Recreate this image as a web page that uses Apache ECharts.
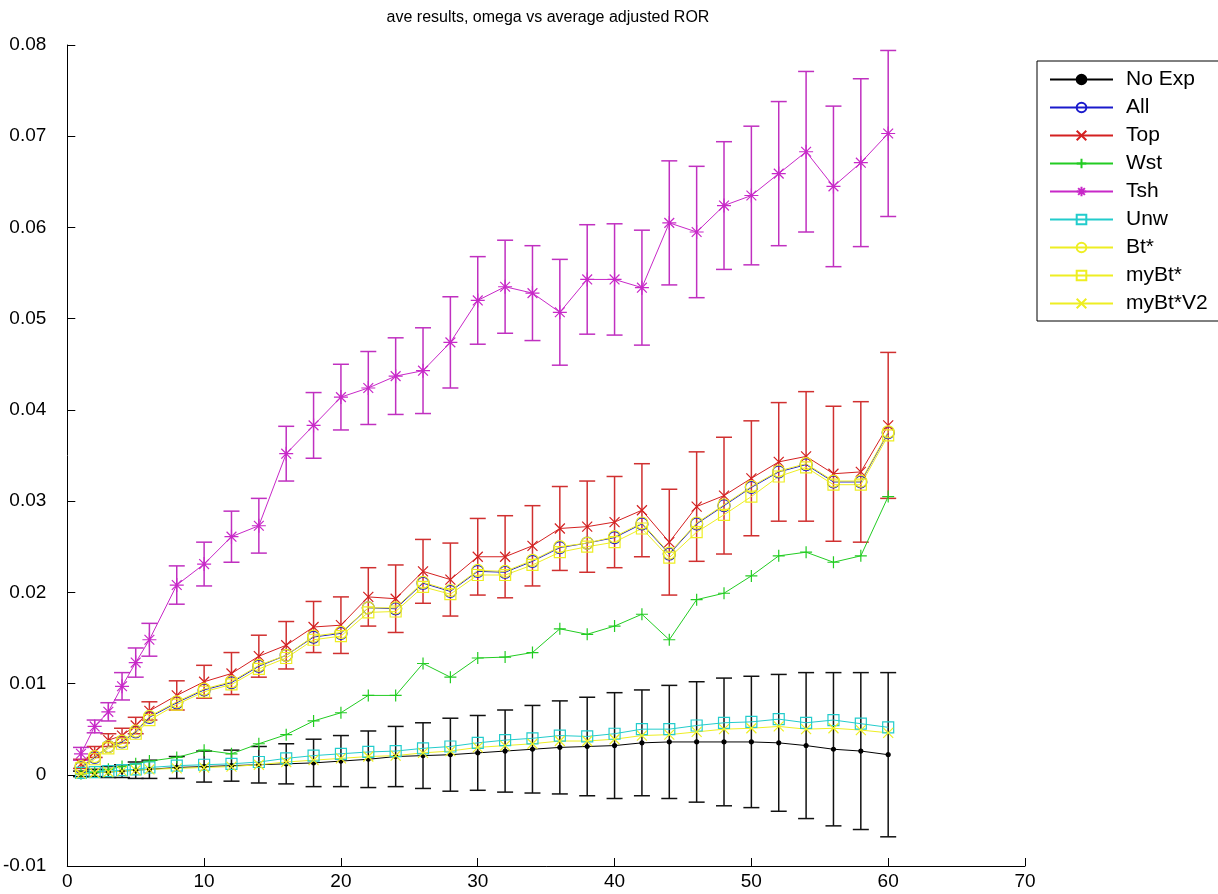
<!DOCTYPE html>
<html>
<head>
<meta charset="utf-8">
<title>ave results, omega vs average adjusted ROR</title>
<script src="https://cdn.jsdelivr.net/npm/echarts@6/dist/echarts.min.js"></script>
<style>
  html, body { margin: 0; padding: 0; background: #fff; }
  #chart { width: 1218px; height: 894px; }
</style>
</head>
<body>
<div id="chart"></div>
<script>
// omega values (x)
var omega = [1, 2, 3, 4, 5, 6, 8, 10, 12, 14, 16, 18, 20, 22, 24, 26, 28, 30, 32, 34, 36, 38, 40, 42, 44, 46, 48, 50, 52, 54, 56, 58, 60];

var noExp    = [0.0001, 0.0002, 0.0003, 0.0004, 0.0005, 0.0006, 0.0008, 0.0009, 0.0010, 0.0011, 0.0012, 0.0013, 0.0015, 0.0017, 0.0020, 0.0021, 0.0022, 0.0024, 0.0026, 0.0028, 0.0030, 0.0031, 0.0032, 0.0035, 0.0036, 0.0036, 0.0036, 0.0036, 0.0035, 0.0032, 0.0028, 0.0026, 0.0022];
var noExpErr = [0.0003, 0.0004, 0.0006, 0.0007, 0.0009, 0.0010, 0.0012, 0.0017, 0.0017, 0.0020, 0.0022, 0.0026, 0.0028, 0.0031, 0.0033, 0.0036, 0.0040, 0.0041, 0.0045, 0.0048, 0.0051, 0.0054, 0.0058, 0.0058, 0.0062, 0.0066, 0.0070, 0.0072, 0.0075, 0.0080, 0.0084, 0.0086, 0.0090];

var all      = [0.0008, 0.0019, 0.0031, 0.0036, 0.0047, 0.0063, 0.0079, 0.0093, 0.0101, 0.0119, 0.0131, 0.0151, 0.0155, 0.0183, 0.0182, 0.0210, 0.0201, 0.0223, 0.0222, 0.0234, 0.0249, 0.0254, 0.0260, 0.0275, 0.0242, 0.0275, 0.0295, 0.0315, 0.0332, 0.0340, 0.0321, 0.0321, 0.0375];

var top_     = [0.0012, 0.0025, 0.0038, 0.0043, 0.0054, 0.0070, 0.0087, 0.0102, 0.0111, 0.0130, 0.0142, 0.0162, 0.0164, 0.0195, 0.0193, 0.0223, 0.0214, 0.0239, 0.0239, 0.0251, 0.0270, 0.0272, 0.0277, 0.0290, 0.0255, 0.0294, 0.0306, 0.0325, 0.0343, 0.0349, 0.0330, 0.0332, 0.0383];
var topErr   = [0.0005, 0.0006, 0.0007, 0.0008, 0.0009, 0.0010, 0.0016, 0.0018, 0.0023, 0.0023, 0.0026, 0.0028, 0.0031, 0.0032, 0.0037, 0.0035, 0.0040, 0.0042, 0.0045, 0.0044, 0.0046, 0.0050, 0.0050, 0.0051, 0.0058, 0.0060, 0.0064, 0.0063, 0.0065, 0.0071, 0.0074, 0.0077, 0.0080];

var wst      = [0.0001, 0.0003, 0.0006, 0.0009, 0.0012, 0.0015, 0.0019, 0.0027, 0.0023, 0.0034, 0.0044, 0.0059, 0.0068, 0.0087, 0.0087, 0.0122, 0.0107, 0.0128, 0.0129, 0.0134, 0.0160, 0.0154, 0.0163, 0.0176, 0.0148, 0.0192, 0.0199, 0.0218, 0.0240, 0.0244, 0.0233, 0.0240, 0.0305];

var tsh      = [0.0023, 0.0053, 0.0069, 0.0097, 0.0123, 0.0148, 0.0208, 0.0231, 0.0261, 0.0273, 0.0352, 0.0383, 0.0414, 0.0424, 0.0437, 0.0443, 0.0474, 0.0520, 0.0535, 0.0528, 0.0507, 0.0543, 0.0543, 0.0534, 0.0605, 0.0595, 0.0624, 0.0635, 0.0659, 0.0683, 0.0645, 0.0671, 0.0703];
var tshErr   = [0.0007, 0.0007, 0.0010, 0.0015, 0.0016, 0.0018, 0.0021, 0.0024, 0.0028, 0.0030, 0.0030, 0.0036, 0.0036, 0.0040, 0.0042, 0.0047, 0.0050, 0.0048, 0.0051, 0.0052, 0.0058, 0.0060, 0.0061, 0.0063, 0.0068, 0.0072, 0.0070, 0.0076, 0.0079, 0.0088, 0.0088, 0.0092, 0.0091];

var unw      = [0.0002, 0.0003, 0.0004, 0.0005, 0.0006, 0.0008, 0.0010, 0.0011, 0.0012, 0.0014, 0.0018, 0.0021, 0.0023, 0.0025, 0.0026, 0.0029, 0.0031, 0.0035, 0.0038, 0.0040, 0.0043, 0.0042, 0.0045, 0.0050, 0.0050, 0.0054, 0.0057, 0.0058, 0.0061, 0.0057, 0.0060, 0.0056, 0.0052];

var btStar   = [0.0009, 0.0020, 0.0031, 0.0037, 0.0048, 0.0064, 0.0080, 0.0094, 0.0102, 0.0120, 0.0131, 0.0152, 0.0156, 0.0183, 0.0183, 0.0211, 0.0202, 0.0224, 0.0223, 0.0235, 0.0250, 0.0254, 0.0261, 0.0276, 0.0243, 0.0276, 0.0296, 0.0316, 0.0333, 0.0341, 0.0322, 0.0322, 0.0376];
var myBt     = [0.0007, 0.0017, 0.0029, 0.0034, 0.0045, 0.0060, 0.0077, 0.0091, 0.0099, 0.0116, 0.0128, 0.0148, 0.0152, 0.0178, 0.0179, 0.0206, 0.0198, 0.0219, 0.0219, 0.0230, 0.0244, 0.0250, 0.0255, 0.0270, 0.0238, 0.0266, 0.0285, 0.0305, 0.0327, 0.0337, 0.0318, 0.0318, 0.0372];
var myBtV2   = [0.0001, 0.0002, 0.0003, 0.0004, 0.0005, 0.0006, 0.0007, 0.0008, 0.0009, 0.0011, 0.0014, 0.0016, 0.0018, 0.0020, 0.0021, 0.0024, 0.0026, 0.0030, 0.0032, 0.0034, 0.0037, 0.0037, 0.0039, 0.0043, 0.0044, 0.0047, 0.0050, 0.0051, 0.0053, 0.0050, 0.0051, 0.0049, 0.0046];

var seriesNames = ['No Exp', 'All', 'Top', 'Wst', 'Tsh', 'Unw', 'Bt*', 'myBt*', 'myBt*V2'];

var FONT = 'Liberation Sans, Arial, sans-serif';

var SYM_X    = 'path://M0,0L10,10M10,0L0,10';
var SYM_PLUS = 'path://M5,0L5,10M0,5L10,5';
var SYM_STAR = 'path://M5,0L5,10M0,5L10,5M1.5,1.5L8.5,8.5M8.5,1.5L1.5,8.5';

function pairs(ys) {
    return omega.map(function (x, i) { return [x, ys[i]]; });
}

function lineSeries(name, color, ys, symbol, size, filled) {
    return {
        name: name,
        type: 'line',
        data: pairs(ys),
        symbol: symbol,
        symbolSize: size,
        showAllSymbol: true,
        lineStyle: { color: color, width: 1 },
        itemStyle: {
            color: filled ? color : 'rgba(0,0,0,0)',
            borderColor: color,
            borderWidth: 1.2
        },
        emphasis: { disabled: true }
    };
}

function errorBars(color, ys, errs) {
    var data = omega.map(function (x, i) { return [x, ys[i] - errs[i], ys[i] + errs[i]]; });
    return {
        type: 'custom',
        silent: true,
        encode: { x: 0, y: [1, 2] },
        data: data,
        renderItem: function (params, api) {
            var x = api.value(0);
            var lo = api.coord([x, api.value(1)]);
            var hi = api.coord([x, api.value(2)]);
            var w = 8;
            var style = { stroke: color, lineWidth: 1.5, fill: null };
            return {
                type: 'group',
                children: [
                    { type: 'line', shape: { x1: hi[0], y1: hi[1], x2: lo[0], y2: lo[1] }, style: style },
                    { type: 'line', shape: { x1: hi[0] - w, y1: hi[1], x2: hi[0] + w, y2: hi[1] }, style: style },
                    { type: 'line', shape: { x1: lo[0] - w, y1: lo[1], x2: lo[0] + w, y2: lo[1] }, style: style }
                ]
            };
        }
    };
}

var chart = echarts.init(document.getElementById('chart'));

var option = {
    animation: false,
    backgroundColor: '#fff',
    title: {
        text: 'ave results, omega vs average adjusted ROR',
        left: 543,
        textAlign: 'center',
        top: 5,
        textStyle: { fontFamily: FONT, fontSize: 16, fontWeight: 'normal', color: '#000' }
    },
    grid: { left: 62, top: 45, right: 193, bottom: 28 },
    legend: {
        data: seriesNames,
        orient: 'vertical',
        left: 1037,
        top: 61,
        padding: [8, 12, 7, 12],
        itemWidth: 63,
        itemHeight: 12,
        itemGap: 7,
        backgroundColor: '#fff',
        borderColor: '#000',
        borderWidth: 1,
        borderRadius: 0,
        textStyle: { fontFamily: FONT, fontSize: 21, color: '#000', lineHeight: 21, padding: [0, 0, 0, 8] }
    },
    xAxis: {
        type: 'value',
        min: 0,
        max: 70,
        interval: 10,
        splitLine: { show: false },
        axisLine: { onZero: false, lineStyle: { color: '#000', width: 1 } },
        axisTick: { inside: true, length: 8, lineStyle: { color: '#000' } },
        axisLabel: { color: '#000', fontFamily: FONT, fontSize: 19, margin: 6 }
    },
    yAxis: {
        type: 'value',
        min: -0.01,
        max: 0.08,
        interval: 0.01,
        splitLine: { show: false },
        axisLine: { show: true, onZero: false, lineStyle: { color: '#000', width: 1 } },
        axisTick: { show: true, inside: true, length: 8, lineStyle: { color: '#000' } },
        axisLabel: {
            color: '#000', fontFamily: FONT, fontSize: 19, margin: 21,
            formatter: function (v) { return Math.abs(v) < 1e-9 ? '0' : v.toFixed(2); }
        }
    },
    series: [
        errorBars('#111111', noExp, noExpErr),
        lineSeries('No Exp', '#000000', noExp, 'circle', 4, true),
        lineSeries('All', '#1a1acc', all, 'circle', 12, false),
        errorBars('#d03030', top_, topErr),
        lineSeries('Top', '#d42020', top_, SYM_X, 10, false),
        lineSeries('Wst', '#22cc22', wst, SYM_PLUS, 12, false),
        errorBars('#c030c0', tsh, tshErr),
        lineSeries('Tsh', '#c828c8', tsh, SYM_STAR, 14, false),
        lineSeries('Unw', '#22cccc', unw, 'rect', 11, false),
        lineSeries('Bt*', '#eeee22', btStar, 'circle', 12, false),
        lineSeries('myBt*', '#eeee22', myBt, 'rect', 11, false),
        lineSeries('myBt*V2', '#eeee22', myBtV2, SYM_X, 10, false)
    ]
};

chart.setOption(option);
</script>
</body>
</html>
